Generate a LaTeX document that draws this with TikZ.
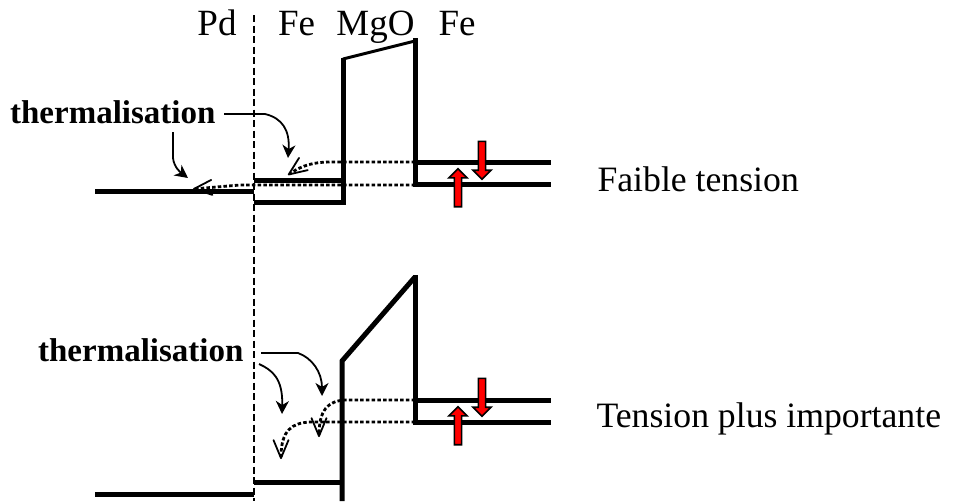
\documentclass[tikz,border=0pt]{standalone}
\usepackage{fontspec}
\setmainfont{Liberation Serif}
\usetikzlibrary{arrows.meta,shapes.arrows}
\tikzset{
    band/.style={line width=5pt, line join=miter},
    dotline/.style={line width=2.8pt, dash pattern=on 3.5pt off 2.2pt, -{Straight Barb[length=18pt, width=15pt, line width=1.8pt, round=false]}},
    curved/.style={line width=1.8pt, -{Stealth[length=13pt, width=13pt, inset=4pt]}},
    redarrow/.style={single arrow, draw=black, fill=red, line width=1.6pt, inner sep=2.8pt,
        minimum height=38pt, minimum width=17pt, single arrow head extend=5.5pt, single arrow head indent=0pt},
    label/.style={font=\fontsize{35.7}{40}\selectfont, anchor=base},
    toplabel/.style={font=\fontsize{37}{40}\selectfont, anchor=base},
    bold/.style={font=\fontsize{33}{38}\selectfont\bfseries, anchor=base east}
}
\begin{document}
\begin{tikzpicture}[x=1pt, y=-1pt]
    \useasboundingbox (0,0) rectangle (958,501);

    % Couches
    \node[toplabel] (pd) at (217,35) {Pd};
    \node[toplabel] (feA) at (296.5,35) {Fe};
    \node[toplabel] (mgo) at (375.5,35) {MgO};
    \node[toplabel] (feB) at (457,35) {Fe};
    \draw[line width=1.6pt, dash pattern=on 7pt off 3.5pt] (254,15) -- (254,501);

    % Faible tension
    \draw[band] (95,191) -- (254,191);
    \draw[band] (254,180) -- (343,180);
    \draw[band] (254,202) -- (343,202) -- (343,58);
    \draw[line width=3pt] (343,59) -- (415,41);
    \draw[band] (415,38) -- (415,184) -- (551,184);
    \draw[band] (415,162) -- (551,162);
    \node[redarrow, rotate=-90] (downA) at (482,158.5) {};
    \node[redarrow, rotate=90] (upA) at (458,189.5) {};
    \node[label, anchor=base west] (faible) at (594,191) {Faible tension};

    % Thermalisation, haut
    \node[bold] (thermA) at (219,123) {thermalisation};
    \coordinate (topA) at (173,132);
    \coordinate (tipA) at (188,178);
    \coordinate (tipB) at (288,158);
    \draw[curved] (thermA.east |- 0,114) ++(5,0) -- (265,114)
        .. controls (282,118) and (290,130) .. (tipB);
    \draw[curved] (topA) -- (173,158) .. controls (174,167) and (180,172) .. (tipA);
    \draw[dotline] (415,162) -- (330,162) .. controls (315,162) and (302,165) .. (288,175);
    \draw[dotline] (415,185) -- (240,185) -- (193,189);

    % Tension plus importante
    \draw[band] (95,494) -- (254,494);
    \draw[band] (254,482) -- (342,482);
    \draw[band] (342,501) -- (342,361) -- (415,277);
    \draw[band] (415,275) -- (415,422) -- (551,422);
    \draw[band] (415,400) -- (551,400);
    \node[redarrow, rotate=-90] (downB) at (482,395.5) {};
    \node[redarrow, rotate=90] (upB) at (458,427.5) {};
    \node[label, anchor=base west] (tension) at (593,427) {Tension plus importante};

    % Thermalisation, bas
    \node[bold] (thermB) at (247,361) {thermalisation};
    \coordinate (startA) at (261,353);
    \coordinate (startB) at (259,364);
    \coordinate (tipC) at (322,396);
    \coordinate (tipD) at (282,414);
    \draw[curved] (startA) -- (298,353) .. controls (312,358) and (322,372) .. (tipC);
    \draw[curved] (startB) .. controls (272,370) and (283,378) .. (tipD);
    \draw[dotline] (415,400) -- (345,400) .. controls (328,401) and (319,410) .. (319,437);
    \draw[dotline] (415,422) -- (310,422) .. controls (292,423) and (281,430) .. (281,459);
\end{tikzpicture}
\end{document}
